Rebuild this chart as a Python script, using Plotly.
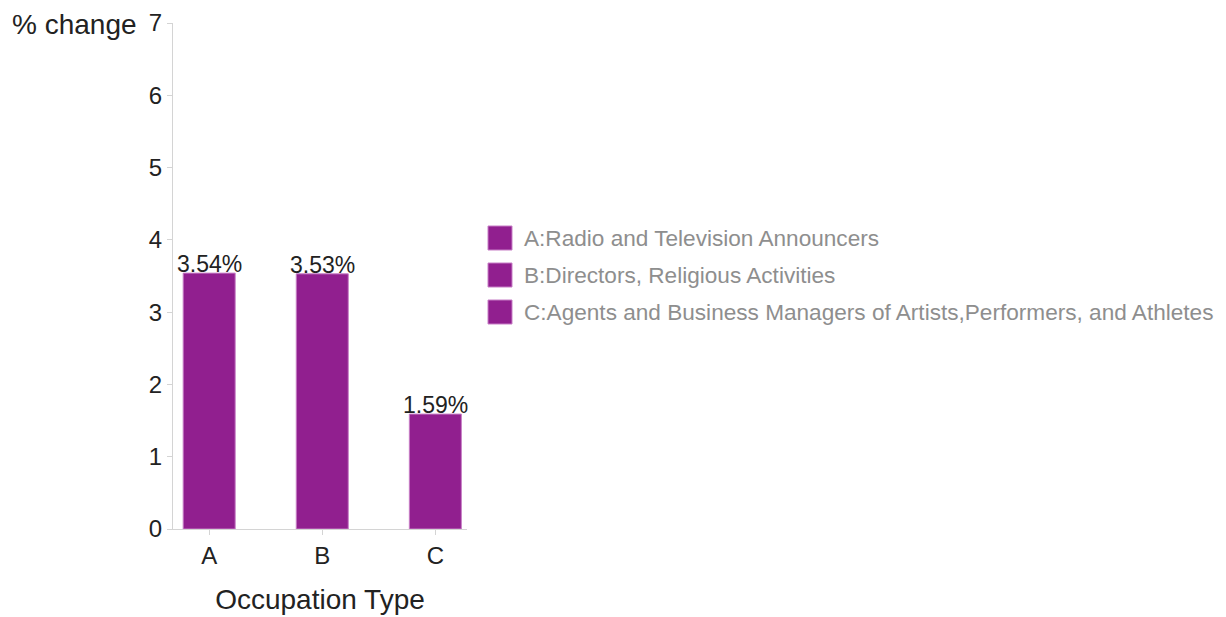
import plotly.graph_objects as go

# Occupation categories and percentage change
categories = ["A", "B", "C"]
pct_change = [3.54, 3.53, 1.59]
legend_names = [
    "A:Radio and Television Announcers",
    "B:Directors, Religious Activities",
    "C:Agents and Business Managers of Artists,Performers, and Athletes",
]
y_ticks = [0, 1, 2, 3, 4, 5, 6, 7]

BAR_COLOR = "#911f8f"
EDGE_COLOR = "#c77fc6"
TEXT_COLOR = "#222222"
FONT = "Liberation Sans"

W, H = 1226, 617
ML, MR, MT, MB = 173, 759, 23, 88
PW, PH = W - ML - MR, H - MT - MB


def px_x(px):
    return (px - ML) / PW


def px_y(py):
    return (H - MB - py) / PH


fig = go.Figure()
fig.add_trace(go.Bar(
    x=categories,
    y=pct_change,
    width=0.46,
    marker=dict(color=BAR_COLOR, line=dict(color=EDGE_COLOR, width=1)),
    showlegend=False,
    hoverinfo="x+y",
))

annotations = []
# Value labels sitting right on top of each bar
for cat, val in zip(categories, pct_change):
    annotations.append(dict(
        text=f"{val:.2f}%", x=cat, y=val, xref="x", yref="y",
        xanchor="center", yanchor="bottom", yshift=-6,
        showarrow=False, font=dict(family=FONT, size=23, color=TEXT_COLOR),
    ))

# Legend: square swatches with gray labels
shapes = []
row_centers = [238, 275, 312]
for name, cy in zip(legend_names, row_centers):
    shapes.append(dict(
        type="rect", xref="paper", yref="paper",
        x0=px_x(488), x1=px_x(512), y0=px_y(cy + 12), y1=px_y(cy - 12),
        fillcolor=BAR_COLOR, line=dict(color=EDGE_COLOR, width=1),
    ))
    annotations.append(dict(
        text=name, xref="paper", yref="paper",
        x=px_x(522), y=px_y(cy), xanchor="left", yanchor="middle",
        showarrow=False, font=dict(family=FONT, size=22.6, color="#8e8e8e"),
    ))

# y-axis caption at top left
annotations.append(dict(
    text="% change", xref="paper", yref="paper",
    x=px_x(139), y=px_y(25), xanchor="right", yanchor="middle",
    showarrow=False, font=dict(family=FONT, size=28, color=TEXT_COLOR),
))

fig.update_layout(
    width=W, height=H,
    margin=dict(l=ML, r=MR, t=MT, b=MB),
    paper_bgcolor="white", plot_bgcolor="white",
    font=dict(family=FONT, color=TEXT_COLOR),
    shapes=shapes,
    annotations=annotations,
    xaxis=dict(
        range=[-0.32, 2.28],
        automargin=False,
        showline=True, linecolor="#d4d4d4", linewidth=1,
        ticks="outside", ticklen=5, tickcolor="#d4d4d4",
        tickfont=dict(family=FONT, size=24, color=TEXT_COLOR),
        showgrid=False, zeroline=False,
        title=dict(text="Occupation Type", standoff=21,
                   font=dict(family=FONT, size=28, color=TEXT_COLOR)),
    ),
    yaxis=dict(
        range=[0, 7],
        automargin=False,
        tickvals=y_ticks,
        showline=True, linecolor="#d4d4d4", linewidth=1,
        ticks="outside", ticklen=5, tickcolor="#d4d4d4",
        tickfont=dict(family=FONT, size=24, color=TEXT_COLOR),
        showgrid=False, zeroline=False,
    ),
)

fig.write_html("out.html")
